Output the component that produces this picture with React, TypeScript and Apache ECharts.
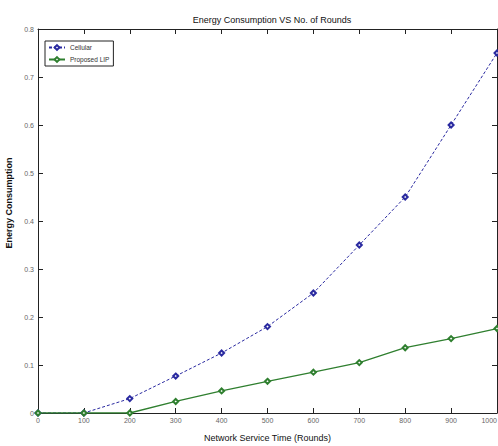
import React, { useEffect, useRef } from "react";
import * as echarts from "echarts";

const rounds = [0, 100, 200, 300, 400, 500, 600, 700, 800, 900, 1000];
const cellular = [0, 0, 0.03, 0.077, 0.125, 0.18, 0.25, 0.35, 0.45, 0.6, 0.75];
const proposedLIP = [0, 0, 0, 0.024, 0.046, 0.066, 0.085, 0.105, 0.136, 0.155, 0.176];

const FONT = "'Liberation Sans Narrow', 'Liberation Sans', sans-serif";

export default function App() {
  const ref = useRef<HTMLDivElement>(null);
  useEffect(() => {
    if (!ref.current) return;
    const chart = echarts.init(ref.current, null, { renderer: "svg" });
    const axisCommon = {
      axisLine: { show: true, onZero: false, lineStyle: { color: "#222", width: 1 } },
      axisTick: { show: true, inside: true, length: 5, lineStyle: { color: "#222" } },
      splitLine: { show: false },
    };
    chart.setOption({
      animation: false,
      backgroundColor: "#ffffff",
      title: {
        text: "Energy Consumption VS No. of Rounds",
        left: 267,
        top: 10,
        textAlign: "center",
        textStyle: { fontFamily: FONT, fontSize: 9, fontWeight: "normal", color: "#111" },
      },
      legend: {
        left: 45,
        top: 41,
        orient: "vertical",
        itemWidth: 16,
        itemHeight: 6,
        itemGap: 5,
        padding: [3, 4, 3, 3],
        borderColor: "#222",
        borderWidth: 1,
        borderRadius: 0,
        backgroundColor: "#fff",
        textStyle: { fontFamily: FONT, fontSize: 6.5, color: "#333" },
        data: ["Cellular", "Proposed LIP"],
      },
      grid: { left: 38, right: 1, top: 29, bottom: 33, containLabel: false, outerBoundsMode: "none" },
      xAxis: [
        {
          type: "value",
          min: 0,
          max: 1000,
          interval: 100,
          name: "Network Service Time (Rounds)",
          nameLocation: "middle",
          nameGap: 20,
          nameTextStyle: { fontFamily: FONT, fontSize: 9, color: "#111" },
          axisLabel: {
            fontFamily: FONT,
            fontSize: 7,
            color: "#666",
            margin: 4,
            alignMaxLabel: "right",
            formatter: (v: number) => String(v),
          },
          ...axisCommon,
        },
        {
          type: "value",
          position: "top",
          min: 0,
          max: 1000,
          interval: 100,
          axisLabel: { show: false },
          ...axisCommon,
        },
      ],
      yAxis: [
        {
          type: "value",
          min: 0,
          max: 0.8,
          interval: 0.1,
          name: "Energy Consumption",
          nameLocation: "middle",
          nameGap: 25,
          nameTextStyle: {
            fontFamily: FONT,
            fontSize: 9,
            fontWeight: "bold",
            color: "#111",
            padding: [0, 0, 0, 36],
          },
          axisLabel: { fontFamily: FONT, fontSize: 7, color: "#666", margin: 4 },
          ...axisCommon,
        },
        {
          type: "value",
          position: "right",
          min: 0,
          max: 0.8,
          interval: 0.1,
          axisLabel: { show: false },
          ...axisCommon,
        },
      ],
      series: [
        {
          name: "Cellular",
          type: "line",
          data: rounds.map((r, i) => [r, cellular[i]]),
          symbol: "emptyDiamond",
          symbolSize: 5,
          color: "#2a2aa0",
          lineStyle: { color: "#2a2aa0", width: 1, type: [3, 2] },
          itemStyle: { color: "#2a2aa0", borderColor: "#2a2aa0", borderWidth: 1 },
        },
        {
          name: "Proposed LIP",
          type: "line",
          data: rounds.map((r, i) => [r, proposedLIP[i]]),
          symbol: "emptyDiamond",
          symbolSize: 5,
          color: "#2f7f2f",
          lineStyle: { color: "#2f7f2f", width: 1.3 },
          itemStyle: { color: "#2f7f2f", borderColor: "#2f7f2f", borderWidth: 1 },
        },
      ],
    });
    return () => chart.dispose();
  }, []);
  return (
    <div
      ref={ref}
      style={{ position: "fixed", left: 0, top: 0, width: 498, height: 446, background: "#fff" }}
    />
  );
}
